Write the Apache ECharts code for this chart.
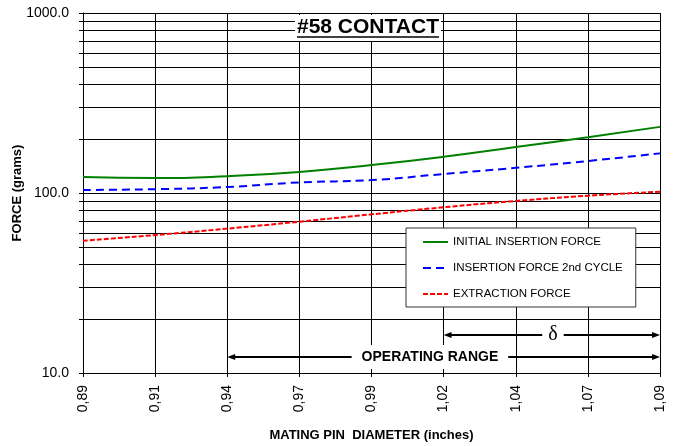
<!DOCTYPE html>
<html>
<head>
<meta charset="utf-8">
<script src="https://cdn.jsdelivr.net/npm/echarts@6/dist/echarts.min.js"></script>
<style>html,body{margin:0;padding:0;background:#fff;}#c{width:675px;height:446px;}</style>
</head>
<body>
<div id="c"></div>
<script>
// Tick labels along the pin diameter axis (equally spaced positions 0..8)
const xTickLabels = ['0,89','0,91','0,94','0,97','0,99','1,02','1,04','1,07','1,09'];
const xPositions = [0, 1, 2, 3, 4, 5, 6, 7, 8];
// Force values (grams) read at each tick position
const initialInsertion = [122.7, 121, 124, 131, 143, 159, 180, 204, 233];
const insertion2ndCycle = [104, 105, 108, 114.5, 118, 127.5, 138, 150.6, 166];
const extractionForce = [54.3, 58.4, 63.4, 69.3, 76.1, 83.3, 90.3, 96.6, 101.7];
// Log axis ticks
const yGridValues = [10,20,30,40,50,60,70,80,90,100,200,300,400,500,600,700,800,900,1000];
const yLabelValues = [10, 100, 1000];
const seriesNames = ['INITIAL INSERTION FORCE', 'INSERTION FORCE 2nd CYCLE', 'EXTRACTION FORCE'];
// Annotation ranges (axis positions) and levels (grams)
const operatingRange = [2, 8];
const deltaRange = [5, 8];
const operatingLevel = 12.27;
const deltaLevel = 16.26;

const pairs = arr => arr.map((v, i) => [xPositions[i], v]);
const F = '"Liberation Sans", Arial, sans-serif';
const inset = 0.055; // keeps arrow tips on the range ends

const chart = echarts.init(document.getElementById('c'), null, {renderer: 'canvas'});
chart.setOption({
  animation: false,
  backgroundColor: '#fff',
  grid: {left: 83, right: 15, top: 13, bottom: 73, containLabel: false, outerBoundsMode: 'none'},
  xAxis: {
    type: 'value', min: 0, max: 8, interval: 1,
    name: 'MATING PIN  DIAMETER (inches)', nameLocation: 'middle', nameGap: 56, nameMoveOverlap: false,
    nameTextStyle: {fontFamily: F, fontWeight: 'bold', fontSize: 13, color: '#000'},
    axisLine: {show: true, lineStyle: {color: '#000', width: 1}},
    axisTick: {show: true, length: 4, inside: false, lineStyle: {color: '#000'}},
    axisLabel: {rotate: 90, margin: 12, fontFamily: F, fontSize: 14, color: '#000',
      formatter: v => xTickLabels[Math.round(v)] || ''},
    splitLine: {show: true, lineStyle: {color: '#000', width: 1}}
  },
  yAxis: {
    type: 'log', logBase: 10, min: 10, max: 1000,
    name: 'FORCE (grams)', nameLocation: 'middle', nameGap: 59, nameMoveOverlap: false,
    nameTextStyle: {fontFamily: F, fontWeight: 'bold', fontSize: 13, color: '#000'},
    axisLine: {show: true, lineStyle: {color: '#000', width: 1}},
    axisTick: {show: true, length: 4, customValues: yGridValues, lineStyle: {color: '#000'}},
    axisLabel: {customValues: yLabelValues, margin: 14, fontFamily: F, fontSize: 14, color: '#000',
      formatter: v => Number(v).toFixed(1)},
    splitLine: {show: true, lineStyle: {color: '#000', width: 1}}
  },
  legend: {
    data: seriesNames,
    orient: 'vertical', left: 406, top: 228,
    padding: [8, 13, 7, 16], itemGap: 14, itemWidth: 25, itemHeight: 14,
    backgroundColor: '#fff', borderColor: '#333', borderWidth: 1,
    itemStyle: {opacity: 0},
    textStyle: {fontFamily: F, fontSize: 11.5, color: '#000'},
    selectedMode: false
  },
  graphic: [
    {type: 'rect', z: 100, shape: {x: 295, y: 15, width: 146, height: 26}, style: {fill: '#fff'}},
    {type: 'text', z: 101, x: 297, y: 17, style: {text: '#58 CONTACT', font: 'bold 21px "Liberation Sans", Arial, sans-serif', fill: '#000'}},
    {type: 'line', z: 101, shape: {x1: 297, y1: 37, x2: 439, y2: 37}, style: {stroke: '#000', lineWidth: 1.5}}
  ],
  series: [
    {name: seriesNames[0], type: 'line', smooth: true, symbol: 'none', data: pairs(initialInsertion),
      lineStyle: {color: '#008000', width: 2}, itemStyle: {color: '#008000'}, z: 3},
    {name: seriesNames[1], type: 'line', smooth: true, symbol: 'none', data: pairs(insertion2ndCycle),
      lineStyle: {color: '#0000ff', width: 2, type: [8, 5]}, itemStyle: {color: '#0000ff'}, z: 3},
    {name: seriesNames[2], type: 'line', smooth: true, symbol: 'none', data: pairs(extractionForce),
      lineStyle: {color: '#ff0000', width: 2, type: [5, 2]}, itemStyle: {color: '#ff0000'}, z: 3},
    {name: 'annotations', type: 'line', data: [], symbol: 'none', silent: true, z: 4,
      markLine: {
        silent: true, animation: false,
        label: {show: false},
        lineStyle: {color: '#000', width: 2, type: 'solid'},
        symbolSize: [6, 8],
        data: [
          [{coord: [operatingRange[0] + inset, operatingLevel], symbol: 'triangle'}, {coord: [operatingRange[1] - inset, operatingLevel], symbol: 'triangle'}],
          [{coord: [deltaRange[0] + inset, deltaLevel], symbol: 'triangle'}, {coord: [deltaRange[1] - inset, deltaLevel], symbol: 'triangle'}]
        ]
      },
      markPoint: {
        silent: true, animation: false, symbol: 'rect', symbolSize: 0,
        data: [
          {coord: [4.81, operatingLevel], label: {show: true, position: 'inside', formatter: 'OPERATING RANGE',
            fontFamily: F, fontWeight: 'bold', fontSize: 14, color: '#000', backgroundColor: '#fff', padding: [5, 10, 5, 10]}},
          {coord: [6.516, deltaLevel], label: {show: true, position: 'inside', formatter: 'δ',
            fontFamily: '"Liberation Serif", "Times New Roman", serif', fontSize: 20, color: '#000', backgroundColor: '#fff', padding: [0, 6, 2, 6]}}
        ]
      }
    }
  ]
});
</script>
</body>
</html>
